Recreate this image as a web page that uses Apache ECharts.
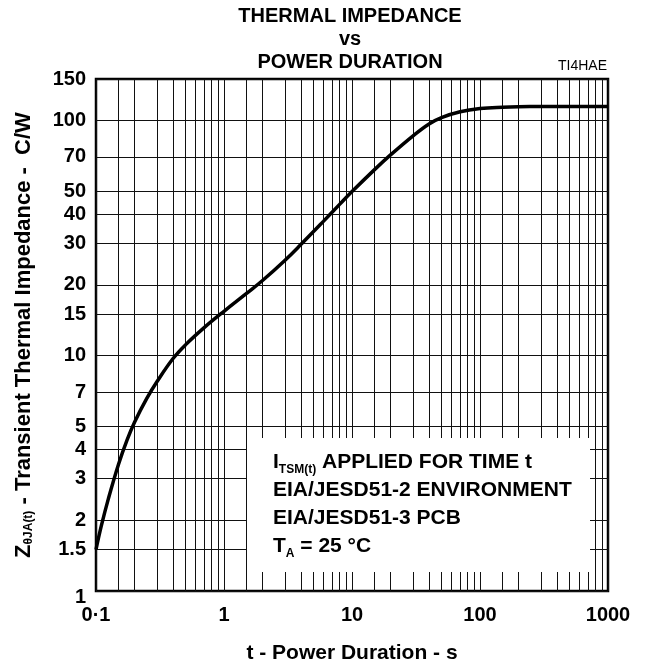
<!DOCTYPE html>
<html><head><meta charset="utf-8">
<script src="https://cdn.jsdelivr.net/npm/echarts@6/dist/echarts.min.js"></script>
<style>html,body{margin:0;padding:0;background:#fff}#c{width:646px;height:666px}</style>
</head><body><div id="c"></div>
<script>
// Power duration t (s) and transient thermal impedance Z (C/W)
const timeS     = [0.1, 0.11, 0.125, 0.15, 0.175, 0.2, 0.25, 0.3, 0.4, 0.5, 0.7, 1, 1.5, 2, 3, 4, 6, 8, 10, 15, 20, 30, 40, 50, 70, 100, 150, 200, 300, 1000];
const impedance = [1.5, 1.89, 2.47, 3.46, 4.39, 5.22, 6.6, 7.77, 9.73, 11.12, 13.16, 15.45, 18.39, 20.87, 25.46, 29.74, 37.32, 43.97, 49.83, 61.78, 71.34, 86.0, 96.6, 102.8, 108.8, 112.3, 113.9, 114.4, 114.5, 114.5];

const xGridValues = [0.1,0.15,0.2,0.3,0.4,0.5,0.6,0.7,0.8,0.9,1,1.5,2,3,4,5,6,7,8,9,10,15,20,30,40,50,60,70,80,90,100,150,200,300,400,500,600,700,800,900,1000];
const xLabelValues = [0.1, 1, 10, 100, 1000];
const xLabelText   = ['0·1', '1', '10', '100', '1000'];
const yGridValues  = [1, 1.5, 2, 3, 4, 5, 7, 10, 15, 20, 30, 40, 50, 70, 100, 150];
const yLabelValues = [1, 1.5, 2, 3, 4, 5, 7, 10, 15, 20, 30, 40, 50, 70, 100, 150];
const yLabelText   = ['1', '1.5', '2', '3', '4', '5', '7', '10', '15', '20', '30', '40', '50', '70', '100', '150'];

const lg = Math.log10;
const FONT = 'Liberation Sans, Arial, sans-serif';
function labelIndex(v, vals) {
  let best = 0, d = Infinity;
  vals.forEach((x, i) => { const dd = Math.abs(lg(x) - v); if (dd < d) { d = dd; best = i; } });
  return best;
}

const chart = echarts.init(document.getElementById('c'), null, {renderer: 'canvas'});
chart.setOption({
  animation: false,
  backgroundColor: '#fff',
  grid: {left: 96, right: 38, top: 79, bottom: 75, outerBoundsMode: 'none', containLabel: false,
    show: true, borderColor: '#000', borderWidth: 2.5, backgroundColor: 'transparent'},
  xAxis: {
    type: 'value', min: lg(xLabelValues[0]), max: lg(xLabelValues[xLabelValues.length - 1]),
    name: 't - Power Duration - s', nameLocation: 'middle', nameGap: 52,
    nameTextStyle: {fontFamily: FONT, fontWeight: 'bold', fontSize: 21, color: '#000'},
    axisLine: {show: false},
    axisTick: {show: false, customValues: xGridValues.map(lg)},
    axisLabel: {customValues: xLabelValues.map(lg), margin: 14, fontFamily: FONT, fontWeight: 'bold', fontSize: 20, color: '#000',
      formatter: v => xLabelText[labelIndex(v, xLabelValues)]},
    splitLine: {show: true, lineStyle: {color: '#111', width: 1}}
  },
  yAxis: {
    type: 'value', min: lg(yGridValues[0]), max: lg(yGridValues[yGridValues.length - 1]),
    name: '{b|Z}{s|θJA(t)}{b| - Transient Thermal Impedance -  C/W}', nameLocation: 'middle', nameGap: 61,
    nameTextStyle: {fontFamily: FONT, color: '#000', rich: {
      b: {fontFamily: FONT, fontWeight: 'bold', fontSize: 22, color: '#000', lineHeight: 24, verticalAlign: 'bottom'},
      s: {fontFamily: FONT, fontWeight: 'bold', fontSize: 12, color: '#000', lineHeight: 24, verticalAlign: 'bottom'}
    }},
    axisLine: {show: false},
    axisTick: {show: false, customValues: yGridValues.map(lg)},
    axisLabel: {customValues: yLabelValues.map(lg), margin: 10, fontFamily: FONT, fontWeight: 'bold', fontSize: 20, color: '#000',
      formatter: v => { const i = labelIndex(v, yLabelValues); return i === 0 ? '{low|' + yLabelText[i] + '}' : yLabelText[i]; },
      rich: {low: {fontFamily: FONT, fontWeight: 'bold', fontSize: 20, color: '#000', padding: [12, 0, 0, 0]}}},
    splitLine: {show: true, lineStyle: {color: '#111', width: 1}}
  },
  series: [{
    type: 'line', data: timeS.map((t, i) => [lg(t), lg(impedance[i])]),
    showSymbol: false, smooth: 0.4,
    lineStyle: {color: '#000', width: 3.5}, z: 5
  }],
  graphic: [
    {type: 'text', x: 350, y: 5, z: 10, style: {
      text: 'THERMAL IMPEDANCE\nvs\nPOWER DURATION', align: 'center', textAlign: 'center',
      font: 'bold 20px ' + FONT, fill: '#000', lineHeight: 23}},
    {type: 'text', right: 39, top: 59, z: 10, style: {text: 'TI4HAE', font: '14px ' + FONT, fill: '#000'}},
    {type: 'rect', left: 247, top: 438, z: 10, shape: {width: 343, height: 134}, style: {fill: '#fff'}},
    {type: 'text', left: 273, top: 452, z: 11, style: {
      text: '{b|I}{s|TSM(t)}{b| APPLIED FOR TIME t}\n{b|EIA/JESD51-2 ENVIRONMENT}\n{b|EIA/JESD51-3 PCB}\n{b|T}{s|A}{b| = 25 °C}',
      rich: {
        b: {fontFamily: FONT, fontWeight: 'bold', fontSize: 21, fill: '#000', lineHeight: 27.8, verticalAlign: 'bottom'},
        s: {fontFamily: FONT, fontWeight: 'bold', fontSize: 12, fill: '#000', lineHeight: 27.8, verticalAlign: 'bottom', padding: [0, 0, -3, 0]}
      }}}
  ]
});
</script></body></html>
